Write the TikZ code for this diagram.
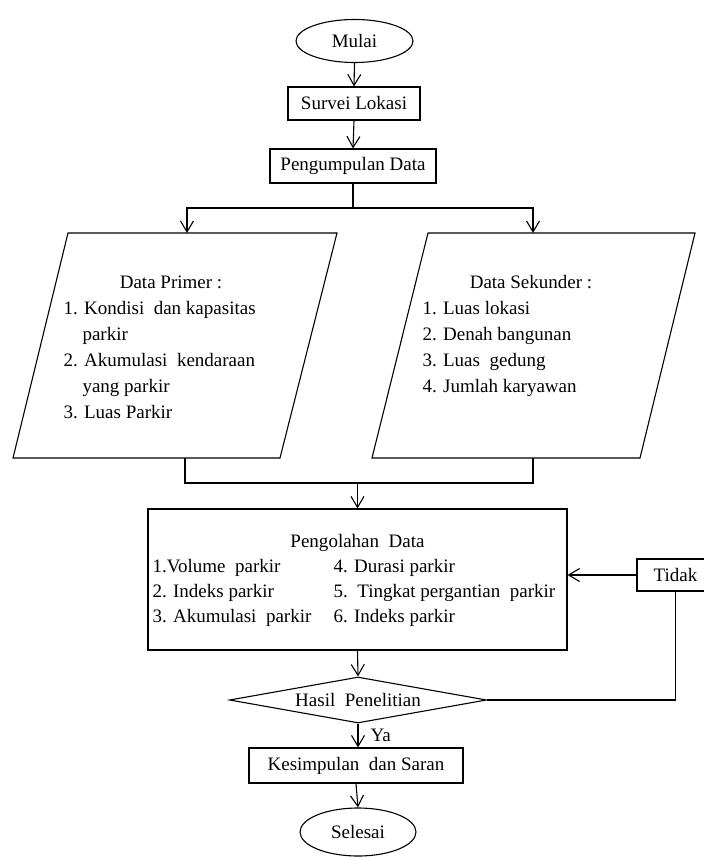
\documentclass[tikz,border=0pt]{standalone}
\usepackage{fontspec}
\setmainfont{Liberation Serif}
\usetikzlibrary{shapes.geometric,arrows.meta}
\begin{document}
\begin{tikzpicture}[x=1pt,y=-1pt,
  font=\fontsize{19}{25.8}\selectfont,
  line width=1.1pt,
  box/.style={draw, rectangle, inner sep=0pt},
  term/.style={draw, ellipse, inner sep=0pt},
  arr/.style={-{Straight Barb[length=11pt,width=13pt]}},
  lbl/.style={anchor=base west, inner sep=0pt},
  ctr/.style={anchor=base, inner sep=0pt},
]
\useasboundingbox (0,0) rectangle (703,858);

% top chain
\node[term, minimum width=117pt, minimum height=43pt] (mulai) at (354.5,41) {Mulai};
\node[box, minimum width=132pt, minimum height=33pt] (survei) at (354,103.5) {Survei Lokasi};
\node[box, minimum width=166pt, minimum height=34pt] (kumpul) at (353,166) {Pengumpulan Data};

\draw[arr] (mulai.south) -- (survei.north);
\draw[arr] (survei.south) -- (kumpul.north);

% split
\coordinate (split) at (353,208);
\coordinate (primerTop) at (187,233);
\coordinate (sekTop) at (533,233);
\coordinate (primerBot) at (185,458);
\coordinate (sekBot) at (533,458);
\coordinate (join) at (357.5,483);

% parallelograms
\coordinate (pa1) at (68,233); \coordinate (pa2) at (337,233);
\coordinate (pa3) at (280,458); \coordinate (pa4) at (13,458);
\draw (pa1) -- (pa2) -- (pa3) -- (pa4) -- cycle;
\coordinate (pb1) at (428,233); \coordinate (pb2) at (695,233);
\coordinate (pb3) at (640,458); \coordinate (pb4) at (372,458);
\draw (pb1) -- (pb2) -- (pb3) -- (pb4) -- cycle;

\node[ctr] (dp) at (171,288) {Data Primer :};
\node[lbl] (dp1) at (63,314) {1. Kondisi\ \ dan kapasitas};
\node[lbl] (dp1b) at (82,340) {parkir};
\node[lbl] (dp2) at (63,366) {2. Akumulasi\ \ kendaraan};
\node[lbl] (dp2b) at (82,392) {yang parkir};
\node[lbl] (dp3) at (63,418) {3. Luas Parkir};

\node[ctr] (ds) at (531,288) {Data Sekunder :};
\node[lbl] (ds1) at (422,314) {1. Luas lokasi};
\node[lbl] (ds2) at (422,340) {2. Denah bangunan};
\node[lbl] (ds3) at (422,366) {3. Luas\ \ gedung};
\node[lbl] (ds4) at (422,392) {4. Jumlah karyawan};

\draw (kumpul.south) -- (split);
\draw[arr] (split) -| (primerTop);
\draw[arr] (split) -| (sekTop);
\draw (primerBot) |- (join);
\draw (sekBot) |- (join);

% processing
\node[box, minimum width=419pt, minimum height=141pt] (olah) at (357.5,579.5) {};
\node[ctr] (olahT) at (357.5,547) {Pengolahan\ \ Data};
\node[lbl] (o1) at (152,572) {1.Volume\ \ parkir};
\node[lbl] (o2) at (152,597) {2. Indeks parkir};
\node[lbl] (o3) at (152,622) {3. Akumulasi\ \ parkir};
\node[lbl] (o4) at (333,572) {4. Durasi parkir};
\node[lbl] (o5) at (333,597) {5.\ \ Tingkat pergantian\ \ parkir};
\node[lbl] (o6) at (333,622) {6. Indeks parkir};

\draw[arr] (join) -- (olah.north);

% decision
\node[draw, diamond, aspect=5.6, minimum width=257pt, minimum height=46pt, inner sep=0pt] (hasil) at (358,700) {Hasil\ \ Penelitian};
\draw[arr] (olah.south) -- (hasil.north);

\node[box, minimum width=77pt, minimum height=32pt] (tidak) at (675.5,575) {Tidak};
\draw (hasil.east) -| (tidak.south);
\draw[arr] (tidak.west) -- (olah.east |- tidak.west);

% end
\node[box, minimum width=214pt, minimum height=35pt] (simpul) at (356,765.5) {Kesimpulan\ \ dan Saran};
\node[term, minimum width=116pt, minimum height=48pt] (selesai) at (358,832) {Selesai};

\draw[arr] (hasil.south) -- (hasil.south |- simpul.north);
\node[anchor=west, inner sep=0pt] (ya) at (370,735) {Ya};
\draw[arr] (simpul.south) -- (selesai.north);
\end{tikzpicture}
\end{document}
